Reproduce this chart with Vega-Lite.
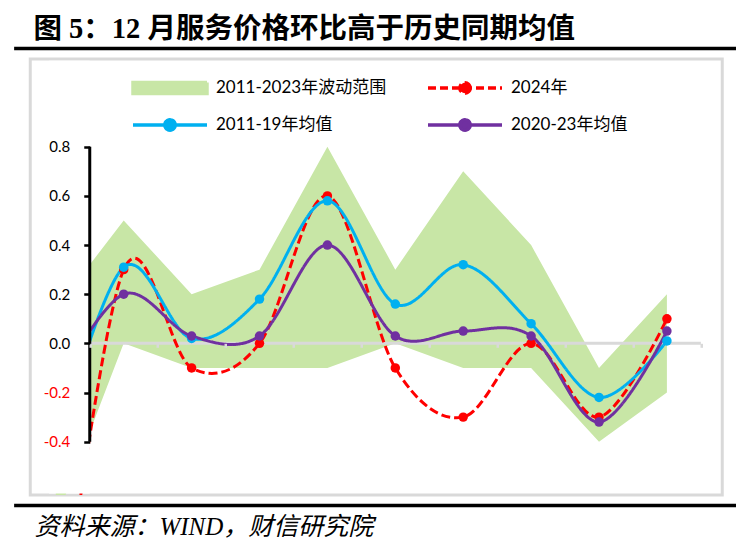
{
  "$schema": "https://vega.github.io/schema/vega-lite/v6.json",
  "background": "white",
  "padding": {"left": 14, "top": 13, "right": 0, "bottom": 0},
  "spacing": 6,
  "center": true,
  "config": {
    "view": {"stroke": null},
    "font": "Lato, 'Noto Sans CJK SC'"
  },
  "datasets": {
    "range": [
      {"month": 3, "lo": -0.72, "hi": 0.14},
      {"month": 4, "lo": 0.0, "hi": 0.5},
      {"month": 5, "lo": -0.1, "hi": 0.2},
      {"month": 6, "lo": -0.1, "hi": 0.3},
      {"month": 7, "lo": -0.1, "hi": 0.8},
      {"month": 8, "lo": 0.0, "hi": 0.3},
      {"month": 9, "lo": -0.1, "hi": 0.7},
      {"month": 10, "lo": -0.1, "hi": 0.4},
      {"month": 11, "lo": -0.4, "hi": -0.1},
      {"month": 12, "lo": -0.2, "hi": 0.2}
    ],
    "lines": [
      {"month": 3, "series": "2024年", "value": -1.35},
      {"month": 4, "series": "2024年", "value": 0.3},
      {"month": 5, "series": "2024年", "value": -0.1},
      {"month": 6, "series": "2024年", "value": 0.0},
      {"month": 7, "series": "2024年", "value": 0.6},
      {"month": 8, "series": "2024年", "value": -0.1},
      {"month": 9, "series": "2024年", "value": -0.3},
      {"month": 10, "series": "2024年", "value": 0.0},
      {"month": 11, "series": "2024年", "value": -0.3},
      {"month": 12, "series": "2024年", "value": 0.1},
      {"month": 3, "series": "2011-19年均值", "value": -0.44},
      {"month": 4, "series": "2011-19年均值", "value": 0.31},
      {"month": 5, "series": "2011-19年均值", "value": 0.02},
      {"month": 6, "series": "2011-19年均值", "value": 0.18},
      {"month": 7, "series": "2011-19年均值", "value": 0.58},
      {"month": 8, "series": "2011-19年均值", "value": 0.16},
      {"month": 9, "series": "2011-19年均值", "value": 0.32},
      {"month": 10, "series": "2011-19年均值", "value": 0.08},
      {"month": 11, "series": "2011-19年均值", "value": -0.22},
      {"month": 12, "series": "2011-19年均值", "value": 0.01},
      {"month": 3, "series": "2020-23年均值", "value": -0.18},
      {"month": 4, "series": "2020-23年均值", "value": 0.2},
      {"month": 5, "series": "2020-23年均值", "value": 0.03},
      {"month": 6, "series": "2020-23年均值", "value": 0.03},
      {"month": 7, "series": "2020-23年均值", "value": 0.4},
      {"month": 8, "series": "2020-23年均值", "value": 0.03},
      {"month": 9, "series": "2020-23年均值", "value": 0.05},
      {"month": 10, "series": "2020-23年均值", "value": 0.03},
      {"month": 11, "series": "2020-23年均值", "value": -0.32},
      {"month": 12, "series": "2020-23年均值", "value": 0.05}
    ]
  },
  "vconcat": [
    {
      "width": 722,
      "height": 1,
      "title": {
        "text": "图 5：12 月服务价格环比高于历史同期均值",
        "anchor": "start",
        "font": "'Liberation Serif', 'Noto Sans CJK SC'",
        "fontSize": 28.5,
        "fontWeight": "bold",
        "color": "black",
        "offset": 5,
        "dx": 18
      },
      "view": {"fill": "black", "stroke": "black", "strokeWidth": 2.5},
      "data": {"values": []},
      "mark": {"type": "text"},
      "encoding": {}
    },
    {
      "width": 692,
      "height": 436,
      "view": {"fill": "white", "stroke": "#D9D9D9", "strokeWidth": 3},
      "layer": [
        {
          "data": {"name": "range"},
          "mark": {"type": "area", "color": "#C8E6A6", "opacity": 1, "clip": true, "interpolate": "linear"},
          "encoding": {
            "x": {"field": "month", "type": "quantitative", "scale": {"domain": [2.6237, 12.815], "nice": false, "zero": false}},
            "y": {"field": "lo", "type": "quantitative", "scale": {"domain": [-0.6168, 1.1568], "nice": false, "zero": false}},
            "y2": {"field": "hi"}
          }
        },
        {
          "data": {"values": [{}]},
          "mark": {"type": "rule", "color": "#D9D9D9", "strokeWidth": 3},
          "encoding": {
            "x": {"datum": 3.5, "type": "quantitative", "scale": {"domain": [2.6237, 12.815], "nice": false, "zero": false}},
            "x2": {"datum": 12.5},
            "y": {"datum": 0, "type": "quantitative", "scale": {"domain": [-0.6168, 1.1568], "nice": false, "zero": false}}
          }
        },
        {
          "data": {"name": "lines"},
          "mark": {"type": "line", "interpolate": "cardinal", "strokeWidth": 3, "clip": true},
          "encoding": {
            "x": {"field": "month", "type": "quantitative", "scale": {"domain": [2.6237, 12.815], "nice": false, "zero": false}},
            "y": {"field": "value", "type": "quantitative", "scale": {"domain": [-0.6168, 1.1568], "nice": false, "zero": false}},
            "color": {
              "field": "series",
              "type": "nominal",
              "scale": {
                "domain": ["2011-2023年波动范围", "2024年", "2011-19年均值", "2020-23年均值"],
                "range": ["#C8E6A6", "#FF0000", "#00B0F0", "#7030A0"]
              },
              "legend": {
                "orient": "none",
                "direction": "horizontal",
                "legendX": 116,
                "legendY": 30,
                "columns": 2,
                "title": null,
                "padding": 0,
                "symbolSize": 5476,
                "symbolStrokeWidth": 3.5,
                "clipHeight": 20,
                "labelFont": "Lato, 'Noto Sans CJK SC'",
                "labelFontSize": 17,
                "labelColor": "black",
                "labelOffset": 7,
                "labelLimit": 400,
                "rowPadding": 17,
                "columnPadding": 39,
                "encode": {
                  "symbols": {
                    "update": {
                      "shape": {"signal": "datum.value === '2011-2023年波动范围' ? 'M-1,-0.15H1V0.15H-1Z' : 'M-1,0H1M0.14,0A0.14,0.14,0,1,1,-0.14,0A0.14,0.14,0,1,1,0.14,0Z'"},
                      "fill": {"signal": "datum.value === '2011-2023年波动范围' ? '#C8E6A6' : datum.value === '2024年' ? '#FF0000' : datum.value === '2011-19年均值' ? '#00B0F0' : '#7030A0'"},
                      "stroke": {"signal": "datum.value === '2011-2023年波动范围' ? 'transparent' : datum.value === '2024年' ? '#FF0000' : datum.value === '2011-19年均值' ? '#00B0F0' : '#7030A0'"},
                      "strokeDash": {"signal": "datum.value === '2024年' ? [8, 4] : [1, 0]"},
                      "strokeWidth": {"value": 3.5},
                      "opacity": {"value": 1},
                      "fillOpacity": {"value": 1},
                      "strokeOpacity": {"value": 1}
                    }
                  }
                }
              }
            },
            "strokeDash": {
              "field": "series",
              "type": "nominal",
              "scale": {"domain": ["2024年", "2011-19年均值", "2020-23年均值"], "range": [[9, 4], [1, 0], [1, 0]]},
              "legend": null
            }
          }
        },
        {
          "data": {"name": "lines"},
          "transform": [{"filter": "datum.month >= 4"}],
          "mark": {"type": "point", "filled": true, "size": 90, "opacity": 1},
          "encoding": {
            "x": {
              "field": "month",
              "type": "quantitative",
              "scale": {"domain": [2.6237, 12.815], "nice": false, "zero": false},
              "axis": {
                "orient": "bottom",
                "offset": -151.7,
                "values": [3.5, 4, 4.5, 5, 5.5, 6, 6.5, 7, 7.5, 8, 8.5, 9, 9.5, 10, 10.5, 11, 11.5, 12, 12.5],
                "domain": false,
                "grid": false,
                "ticks": true,
                "tickSize": 4,
                "tickWidth": 2.5,
                "tickColor": "#D9D9D9",
                "tickOpacity": {"condition": {"test": "datum.value % 1 === 0", "value": 0}, "value": 1},
                "labelExpr": "datum.value % 1 === 0 ? (datum.value < 10 ? '0' : '') + datum.value + '月' : ''",
                "labelPadding": 109,
                "labelFont": "Lato, 'Noto Sans CJK SC'",
                "labelFontSize": 15,
                "labelColor": "black",
                "labelOverlap": false,
                "labelFlush": false,
                "labelBound": false,
                "title": null,
                "zindex": 1
              }
            },
            "y": {
              "field": "value",
              "type": "quantitative",
              "scale": {"domain": [-0.6168, 1.1568], "nice": false, "zero": false},
              "axis": {
                "orient": "left",
                "offset": -59.5,
                "values": [-0.4, -0.2, 0, 0.2, 0.4, 0.6, 0.8],
                "labelExpr": "datum.value < 0 ? '-' + format(-datum.value, '.1f') : format(datum.value, '.1f')",
                "domain": false,
                "grid": false,
                "tickColor": "black",
                "tickSize": 6,
                "tickWidth": 2.5,
                "labelPadding": 14,
                "labelFont": "Lato, 'Noto Sans CJK SC'",
                "labelFontSize": 15,
                "labelColor": {"condition": {"test": "datum.value < 0", "value": "#FF0000"}, "value": "black"},
                "title": null,
                "zindex": 1
              }
            },
            "color": {"field": "series", "type": "nominal"}
          }
        },
        {
          "data": {"values": [{}]},
          "mark": {"type": "rect", "color": "white", "opacity": 1},
          "encoding": {
            "x": {"datum": 2.9, "type": "quantitative", "scale": {"domain": [2.6237, 12.815], "nice": false, "zero": false}},
            "x2": {"datum": 3.5},
            "y": {"datum": -0.6107, "type": "quantitative", "scale": {"domain": [-0.6168, 1.1568], "nice": false, "zero": false}},
            "y2": {"datum": 1.15}
          }
        },
        {
          "data": {"values": [{}]},
          "mark": {"type": "rule", "color": "black", "strokeWidth": 3},
          "encoding": {
            "x": {"datum": 3.5, "type": "quantitative", "scale": {"domain": [2.6237, 12.815], "nice": false, "zero": false}},
            "y": {"datum": -0.4, "type": "quantitative", "scale": {"domain": [-0.6168, 1.1568], "nice": false, "zero": false}},
            "y2": {"datum": 0.8}
          }
        }
      ]
    },
    {
      "width": 722,
      "height": 1,
      "title": {
        "text": "资料来源：WIND，财信研究院",
        "orient": "bottom",
        "anchor": "start",
        "font": "'Liberation Serif', 'Noto Sans CJK SC'",
        "fontSize": 25,
        "fontStyle": "italic",
        "fontWeight": "normal",
        "color": "black",
        "offset": 9,
        "dx": 19
      },
      "view": {"fill": "black", "stroke": "black", "strokeWidth": 2.5},
      "data": {"values": []},
      "mark": {"type": "text"},
      "encoding": {}
    }
  ]
}
